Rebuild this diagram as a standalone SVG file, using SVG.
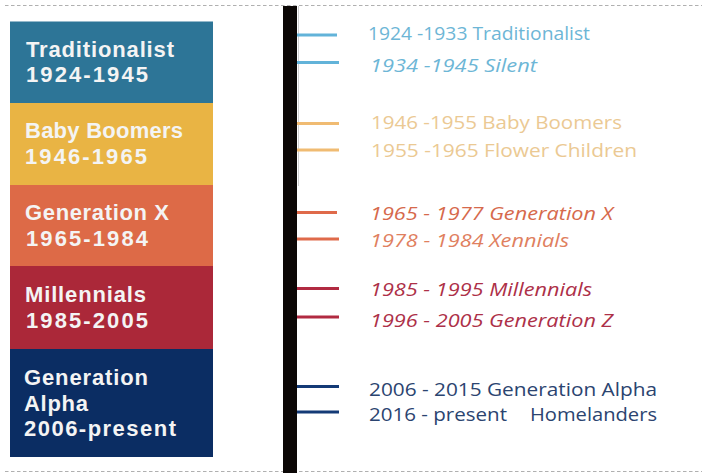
<svg xmlns="http://www.w3.org/2000/svg" width="704" height="473" viewBox="0 0 704 473">
<style>
.box text{font-family:"Liberation Sans",Arial,sans-serif;font-weight:700;font-size:22px;fill:#f4f4f4;}
.lbl{font-family:"Open Sans","Liberation Sans",sans-serif;font-size:18px;}
.it{font-style:italic;}
.tick{stroke-width:3;fill:none;}
.border{stroke:#b0b0b0;stroke-width:1.2;stroke-dasharray:3.5 2.5;fill:none;}
</style>
<rect width="704" height="473" fill="#ffffff"/>
<line class="border" x1="5" y1="5.5" x2="702" y2="5.5"/>
<line class="border" x1="5" y1="471.5" x2="702" y2="471.5"/>

<g id="traditionalist" class="box">
<rect x="10" y="21.5" width="203" height="81.5" fill="#2d7597"/>
<text x="26" y="57" textLength="148" lengthAdjust="spacing">Traditionalist</text>
<text x="26" y="82" textLength="122" lengthAdjust="spacing">1924-1945</text>
</g>
<g id="baby-boomers" class="box">
<rect x="10" y="103" width="203" height="82" fill="#e9b444"/>
<text x="25" y="138" textLength="158" lengthAdjust="spacing">Baby Boomers</text>
<text x="25" y="164" textLength="122" lengthAdjust="spacing">1946-1965</text>
</g>
<g id="generation-x" class="box">
<rect x="10" y="185" width="203" height="81" fill="#dd6a47"/>
<text x="25" y="220" textLength="144" lengthAdjust="spacing">Generation X</text>
<text x="26" y="246" textLength="122" lengthAdjust="spacing">1965-1984</text>
</g>
<g id="millennials" class="box">
<rect x="10" y="266" width="203" height="83" fill="#ab2839"/>
<text x="25" y="302" textLength="121" lengthAdjust="spacing">Millennials</text>
<text x="26" y="328" textLength="122" lengthAdjust="spacing">1985-2005</text>
</g>
<g id="generation-alpha" class="box">
<rect x="10" y="349" width="203" height="108" fill="#0b2d63"/>
<text x="24" y="385" textLength="124" lengthAdjust="spacing">Generation</text>
<text x="24" y="411" textLength="64" lengthAdjust="spacing">Alpha</text>
<text x="24" y="436" textLength="152" lengthAdjust="spacing">2006-present</text>
</g>

<g id="timeline-axis">
<line x1="298.5" y1="6" x2="298.5" y2="186" stroke="#cfcfcf" stroke-width="1"/>
<rect x="283" y="6" width="14" height="467" fill="#0b0705"/>
</g>

<g id="connectors">
<line class="tick" x1="297" y1="35" x2="337" y2="35" stroke="#62b3d9"/>
<line class="tick" x1="297" y1="62.5" x2="339" y2="62.5" stroke="#62b3d9"/>
<line class="tick" x1="297" y1="123.5" x2="339" y2="123.5" stroke="#f0bb72"/>
<line class="tick" x1="297" y1="150" x2="339" y2="150" stroke="#f0bb72"/>
<line class="tick" x1="297" y1="212.5" x2="337" y2="212.5" stroke="#df6a4a"/>
<line class="tick" x1="297" y1="239" x2="339" y2="239" stroke="#df6a4a"/>
<line class="tick" x1="297" y1="288.5" x2="339" y2="288.5" stroke="#b12a41"/>
<line class="tick" x1="297" y1="317" x2="339" y2="317" stroke="#b12a41"/>
<line class="tick" x1="297" y1="386.5" x2="339" y2="386.5" stroke="#143a76"/>
<line class="tick" x1="297" y1="412" x2="339" y2="412" stroke="#143a76"/>
</g>

<g id="label-traditionalist">
<text class="lbl" x="368" y="40" fill="#6db6d6" textLength="222" lengthAdjust="spacingAndGlyphs">1924 -1933 Traditionalist</text>
</g>
<g id="label-silent">
<text class="lbl it" x="370" y="71.5" fill="#6db6d6" textLength="167" lengthAdjust="spacingAndGlyphs">1934 -1945 Silent</text>
</g>
<g id="label-baby-boomers">
<text class="lbl" x="371" y="129" fill="#ebc993" textLength="251" lengthAdjust="spacingAndGlyphs">1946 -1955 Baby Boomers</text>
</g>
<g id="label-flower-children">
<text class="lbl" x="371" y="157" fill="#ebc993" textLength="266" lengthAdjust="spacingAndGlyphs">1955 -1965 Flower Children</text>
</g>
<g id="label-generation-x">
<text class="lbl it" x="370" y="220" fill="#d6694c" textLength="243" lengthAdjust="spacingAndGlyphs">1965 - 1977 Generation X</text>
</g>
<g id="label-xennials">
<text class="lbl it" x="370" y="247" fill="#e0805f" textLength="199" lengthAdjust="spacingAndGlyphs">1978 - 1984 Xennials</text>
</g>
<g id="label-millennials">
<text class="lbl it" x="370" y="296" fill="#ad3048" textLength="222" lengthAdjust="spacingAndGlyphs">1985 - 1995 Millennials</text>
</g>
<g id="label-generation-z">
<text class="lbl it" x="370" y="327" fill="#ad3048" textLength="243" lengthAdjust="spacingAndGlyphs">1996 - 2005 Generation Z</text>
</g>
<g id="label-generation-alpha">
<text class="lbl" x="369" y="395.5" fill="#2b4470" textLength="288" lengthAdjust="spacingAndGlyphs">2006 - 2015 Generation Alpha</text>
</g>
<g id="label-homelanders">
<text class="lbl" x="369" y="420.5" fill="#2b4470"><tspan textLength="138" lengthAdjust="spacingAndGlyphs">2016 - present</tspan><tspan x="530" textLength="127" lengthAdjust="spacingAndGlyphs">Homelanders</tspan></text>
</g>
</svg>
